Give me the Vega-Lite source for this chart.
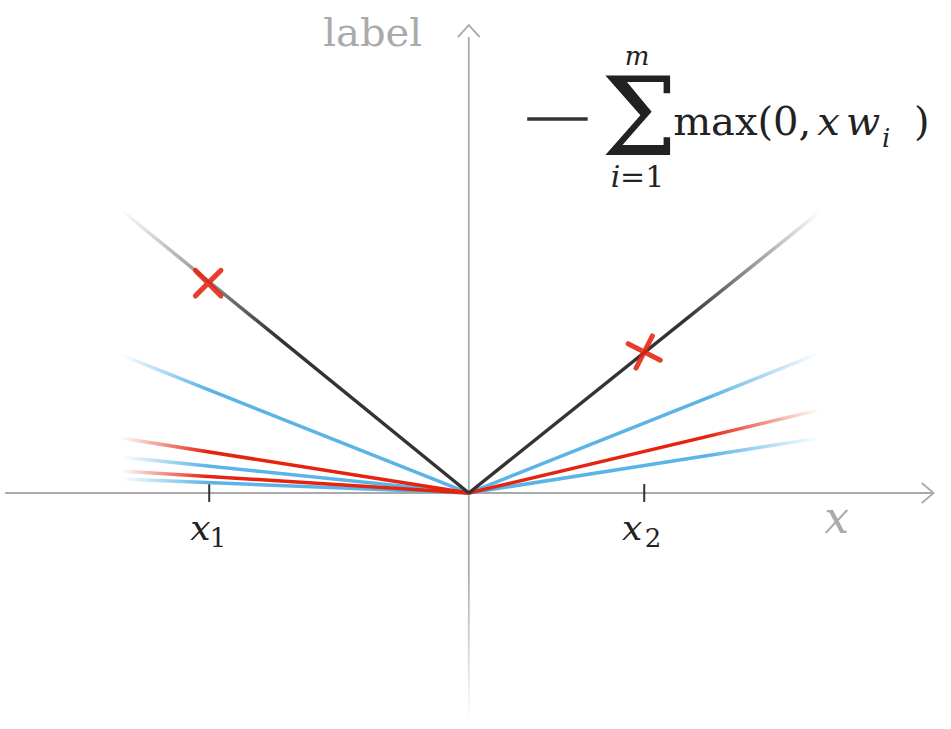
{
  "$schema": "https://vega.github.io/schema/vega-lite/v6.json",
  "width": 951,
  "height": 729,
  "autosize": {"type": "fit", "contains": "padding"},
  "padding": 0,
  "background": "white",
  "config": {"view": {"stroke": null}},
  "datasets": {
    "lines": [
      {"id": "bkL", "col": "black", "side": "L", "x": -1.335, "y": 1.076},
      {"id": "bkL", "col": "black", "side": "L", "x": 0, "y": 0},
      {"id": "bkR", "col": "black", "side": "R", "x": 0, "y": 0},
      {"id": "bkR", "col": "black", "side": "R", "x": 1.346, "y": 1.068},
      {"id": "b1L", "col": "blue", "side": "L", "x": -1.335, "y": 0.525},
      {"id": "b1L", "col": "blue", "side": "L", "x": 0, "y": 0},
      {"id": "b2L", "col": "blue", "side": "L", "x": -1.335, "y": 0.137},
      {"id": "b2L", "col": "blue", "side": "L", "x": 0, "y": 0},
      {"id": "b3L", "col": "blue", "side": "L", "x": -1.335, "y": 0.053},
      {"id": "b3L", "col": "blue", "side": "L", "x": 0, "y": 0},
      {"id": "r1L", "col": "red", "side": "L", "x": -1.335, "y": 0.209},
      {"id": "r1L", "col": "red", "side": "L", "x": 0, "y": 0},
      {"id": "r2L", "col": "red", "side": "L", "x": -1.335, "y": 0.084},
      {"id": "r2L", "col": "red", "side": "L", "x": 0, "y": 0},
      {"id": "b1R", "col": "blue", "side": "R", "x": 0, "y": 0},
      {"id": "b1R", "col": "blue", "side": "R", "x": 1.346, "y": 0.532},
      {"id": "b2R", "col": "blue", "side": "R", "x": 0, "y": 0},
      {"id": "b2R", "col": "blue", "side": "R", "x": 1.346, "y": 0.209},
      {"id": "r1R", "col": "red", "side": "R", "x": 0, "y": 0},
      {"id": "r1R", "col": "red", "side": "R", "x": 1.346, "y": 0.316}
    ],
    "haxis": [{"x": -1.779, "x2": 1.779, "y": 0}],
    "vaxis": [{"x": 0, "y": 1.734, "y2": -0.871}],
    "arrows": [
      {"id": "h", "i": 0, "x": 1.738, "y": 0.038},
      {"id": "h", "i": 1, "x": 1.783, "y": 0},
      {"id": "h", "i": 2, "x": 1.738, "y": -0.038},
      {"id": "v", "i": 0, "x": -0.042, "y": 1.733},
      {"id": "v", "i": 1, "x": 0, "y": 1.779},
      {"id": "v", "i": 2, "x": 0.042, "y": 1.733}
    ],
    "ticks": [
      {"x": -0.996, "y": 0.034, "y2": -0.034},
      {"x": 0.673, "y": 0.034, "y2": -0.034}
    ],
    "legendDash": [{"x": 0.224, "x2": 0.456, "y": 1.422}],
    "crosses": [
      {"x": -1.0, "y": 0.798, "side": "L"},
      {"x": 0.673, "y": 0.536, "side": "R"}
    ],
    "textsUp": [
      {"x": -0.369, "y": 1.7, "t": "label", "kind": "axisLabel"},
      {"x": -0.962, "y": -0.205, "t": "1", "kind": "tickSub"},
      {"x": 0.707, "y": -0.205, "t": "2", "kind": "tickSub"},
      {"x": 0.654, "y": 1.285, "t": "Σ", "kind": "sigma"},
      {"x": 0.665, "y": 1.163, "t": "=1", "kind": "lowerLimit"},
      {"x": 1.049, "y": 1.361, "t": "max(0,", "kind": "fn"},
      {"x": 1.738, "y": 1.361, "t": ")", "kind": "fn"}
    ],
    "textsIt": [
      {"x": 1.411, "y": -0.152, "t": "x", "kind": "axisVar"},
      {"x": -1.03, "y": -0.179, "t": "x", "kind": "tickVar"},
      {"x": 0.627, "y": -0.179, "t": "x", "kind": "tickVar"},
      {"x": 0.646, "y": 1.627, "t": "m", "kind": "upperLimit"},
      {"x": 0.563, "y": 1.163, "t": "i", "kind": "lowerLimit"},
      {"x": 1.38, "y": 1.361, "t": "x", "kind": "fn"},
      {"x": 1.513, "y": 1.361, "t": "w", "kind": "fn"},
      {"x": 1.601, "y": 1.316, "t": "i", "kind": "fnSub"}
    ]
  },
  "encoding": {
    "x": {"field": "x", "type": "quantitative", "scale": {"domain": [-1.7795, 1.8308], "nice": false, "zero": false}, "axis": null},
    "y": {"field": "y", "type": "quantitative", "scale": {"domain": [-0.8973, 1.8745], "nice": false, "zero": false}, "axis": null}
  },
  "layer": [
    {
      "data": {"name": "haxis"},
      "mark": {"type": "rule", "color": "#aaaaaa", "strokeWidth": 1.8},
      "encoding": {"x2": {"field": "x2"}}
    },
    {
      "data": {"name": "vaxis"},
      "mark": {
        "type": "bar",
        "width": 1.8,
        "fill": {"gradient": "linear", "x1": 0, "y1": 0, "x2": 0, "y2": 1,
          "stops": [
            {"offset": 0, "color": "#aaaaaa"},
            {"offset": 0.78, "color": "#aaaaaa"},
            {"offset": 1, "color": "rgba(170,170,170,0)"}
          ]}
      },
      "encoding": {"y2": {"field": "y2"}}
    },
    {
      "data": {"name": "arrows"},
      "mark": {"type": "line", "color": "#aaaaaa", "strokeWidth": 1.8},
      "encoding": {"detail": {"field": "id"}, "order": {"field": "i"}}
    },
    {
      "data": {"name": "ticks"},
      "mark": {"type": "rule", "color": "#333333", "strokeWidth": 2},
      "encoding": {"y2": {"field": "y2"}}
    },
    {
      "data": {"name": "lines"},
      "transform": [{"filter": "datum.col == 'blue' && datum.side == 'L'"}],
      "mark": {"type": "line", "strokeWidth": 3.5,
        "stroke": {"gradient": "linear", "x1": 0, "y1": 0, "x2": 1, "y2": 0,
          "stops": [
            {"offset": 0, "color": "rgba(90,180,230,0)"},
            {"offset": 0.25, "color": "#5AB4E6"},
            {"offset": 1, "color": "#5AB4E6"}
          ]}},
      "encoding": {"detail": {"field": "id"}}
    },
    {
      "data": {"name": "lines"},
      "transform": [{"filter": "datum.col == 'blue' && datum.side == 'R'"}],
      "mark": {"type": "line", "strokeWidth": 3.5,
        "stroke": {"gradient": "linear", "x1": 0, "y1": 0, "x2": 1, "y2": 0,
          "stops": [
            {"offset": 0, "color": "#5AB4E6"},
            {"offset": 0.68, "color": "#5AB4E6"},
            {"offset": 1, "color": "rgba(90,180,230,0)"}
          ]}},
      "encoding": {"detail": {"field": "id"}}
    },
    {
      "data": {"name": "lines"},
      "transform": [{"filter": "datum.col == 'red' && datum.side == 'L'"}],
      "mark": {"type": "line", "strokeWidth": 3.5,
        "stroke": {"gradient": "linear", "x1": 0, "y1": 0, "x2": 1, "y2": 0,
          "stops": [
            {"offset": 0, "color": "rgba(229,35,15,0)"},
            {"offset": 0.25, "color": "#E5230F"},
            {"offset": 1, "color": "#E5230F"}
          ]}},
      "encoding": {"detail": {"field": "id"}}
    },
    {
      "data": {"name": "lines"},
      "transform": [{"filter": "datum.col == 'red' && datum.side == 'R'"}],
      "mark": {"type": "line", "strokeWidth": 3.5,
        "stroke": {"gradient": "linear", "x1": 0, "y1": 0, "x2": 1, "y2": 0,
          "stops": [
            {"offset": 0, "color": "#E5230F"},
            {"offset": 0.68, "color": "#E5230F"},
            {"offset": 1, "color": "rgba(229,35,15,0)"}
          ]}},
      "encoding": {"detail": {"field": "id"}}
    },
    {
      "data": {"name": "lines"},
      "transform": [{"filter": "datum.col == 'black' && datum.side == 'L'"}],
      "mark": {"type": "line", "strokeWidth": 3.5,
        "stroke": {"gradient": "linear", "x1": 0, "y1": 0, "x2": 1, "y2": 0,
          "stops": [
            {"offset": 0, "color": "rgba(51,51,51,0)"},
            {"offset": 0.45, "color": "#333333"},
            {"offset": 1, "color": "#333333"}
          ]}},
      "encoding": {"detail": {"field": "id"}}
    },
    {
      "data": {"name": "lines"},
      "transform": [{"filter": "datum.col == 'black' && datum.side == 'R'"}],
      "mark": {"type": "line", "strokeWidth": 3.5,
        "stroke": {"gradient": "linear", "x1": 0, "y1": 0, "x2": 1, "y2": 0,
          "stops": [
            {"offset": 0, "color": "#333333"},
            {"offset": 0.62, "color": "#333333"},
            {"offset": 1, "color": "rgba(51,51,51,0)"}
          ]}},
      "encoding": {"detail": {"field": "id"}}
    },
    {
      "data": {"name": "crosses"},
      "mark": {"type": "point", "shape": "M-1,-1L1,1M-1,1L1,-1", "size": 650, "filled": false,
        "stroke": "#E5230F", "strokeWidth": 5, "strokeCap": "round", "opacity": 0.88},
      "encoding": {"angle": {"condition": {"test": "datum.side == 'R'", "value": 342}, "value": 0}}
    },
    {
      "data": {"name": "legendDash"},
      "mark": {"type": "rule", "color": "#333333", "strokeWidth": 3.5},
      "encoding": {"x2": {"field": "x2"}}
    },
    {
      "data": {"name": "textsUp"},
      "mark": {"type": "text", "font": "DejaVu Serif", "align": "center", "baseline": "alphabetic"},
      "encoding": {
        "text": {"field": "t"},
        "size": {"field": "kind", "type": "ordinal", "legend": null,
          "scale": {"type": "ordinal",
            "domain": ["axisLabel", "axisVar", "tickVar", "tickSub", "sigma", "upperLimit", "lowerLimit", "fn", "fnSub"],
            "range": [40, 44, 36, 26, 108, 26, 30, 40, 26]}},
        "color": {"condition": {"test": "datum.kind == 'axisLabel' || datum.kind == 'axisVar'", "value": "#aaaaaa"}, "value": "#222222"}
      }
    },
    {
      "data": {"name": "textsIt"},
      "mark": {"type": "text", "font": "DejaVu Serif", "fontStyle": "italic", "align": "center", "baseline": "alphabetic"},
      "encoding": {
        "text": {"field": "t"},
        "size": {"field": "kind", "type": "ordinal", "legend": null,
          "scale": {"type": "ordinal",
            "domain": ["axisLabel", "axisVar", "tickVar", "tickSub", "sigma", "upperLimit", "lowerLimit", "fn", "fnSub"],
            "range": [40, 44, 36, 26, 108, 26, 30, 40, 26]}},
        "color": {"condition": {"test": "datum.kind == 'axisLabel' || datum.kind == 'axisVar'", "value": "#aaaaaa"}, "value": "#222222"}
      }
    }
  ]
}
